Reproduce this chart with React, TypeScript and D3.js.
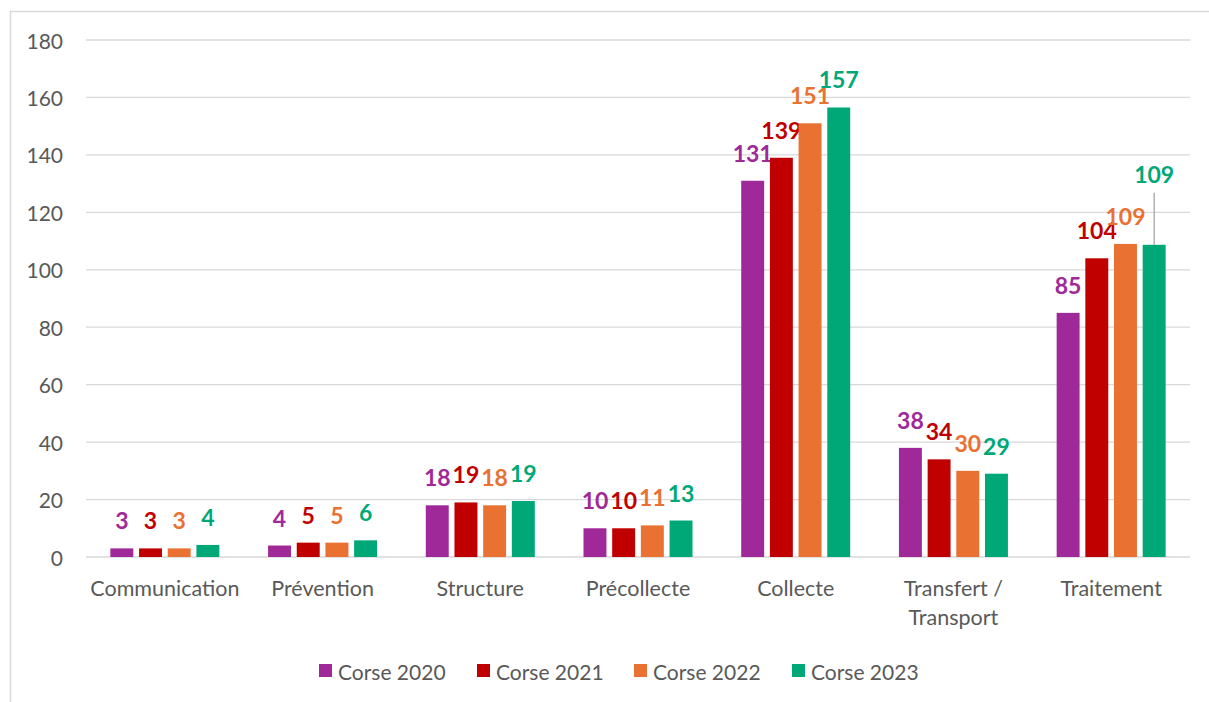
import React from "react";
import * as d3 from "d3";

const categories = ["Communication", "Prévention", "Structure", "Précollecte", "Collecte", "Transfert / Transport", "Traitement"];
const seriesNames = ["Corse 2020", "Corse 2021", "Corse 2022", "Corse 2023"];
const corse2020 = [3, 4, 18, 10, 131, 38, 85];
const corse2021 = [3, 5, 19, 10, 139, 34, 104];
const corse2022 = [3, 5, 18, 11, 151, 30, 109];
const corse2023 = [4.2, 5.8, 19.5, 12.7, 156.5, 29, 108.7];
const labels2020 = ["3", "4", "18", "10", "131", "38", "85"];
const labels2021 = ["3", "5", "19", "10", "139", "34", "104"];
const labels2022 = ["3", "5", "18", "11", "151", "30", "109"];
const labels2023 = ["4", "6", "19", "13", "157", "29", "109"];
const yTicks = [0, 20, 40, 60, 80, 100, 120, 140, 160, 180];

const colors = ["#A0299A", "#C00000", "#E97132", "#00A878"];
const allValues = [corse2020, corse2021, corse2022, corse2023];
const allLabels = [labels2020, labels2021, labels2022, labels2023];

// label placement tweaks (series-category) -> [dx, dy extra]
const labelAdjust: Record<string, [number, number]> = {
  "3-6": [0, -43],
};

export default function App() {
  const W = 1209, H = 702;
  const left = 86, right = 1190, top = 40, bottom = 557;
  const y = d3.scaleLinear().domain([0, 180]).range([bottom, top]);
  const x = d3.scaleBand().domain(categories).range([left, right]).paddingInner(0).paddingOuter(0);
  const bw = x.bandwidth();
  const groupW = 109;
  const xs = d3.scaleBand().domain(seriesNames).range([0, groupW]).paddingInner(0.2).paddingOuter(0);
  const font = "Lato, 'Open Sans', sans-serif";
  const legendX = [319, 477, 634, 792];
  const axisFs = 21.5;

  return (
    <svg width={W} height={H} style={{ position: "absolute", left: 0, top: 0, background: "#fff" }} fontFamily={font}>
      <rect x={0} y={0} width={W} height={H} fill="#fff" />
      <line x1={10.5} y1={11} x2={10.5} y2={H} stroke="#d9d9d9" strokeWidth={1.5} />
      <line x1={10} y1={11.5} x2={W} y2={11.5} stroke="#d9d9d9" strokeWidth={1.5} />
      {yTicks.map((t) => (
        <g key={t}>
          <line x1={left} x2={right} y1={y(t)} y2={y(t)} stroke="#d9d9d9" strokeWidth={1.3} />
          <text x={63} y={y(t)} textAnchor="end" dominantBaseline="central" fontSize={21} fill="#595959">{t}</text>
        </g>
      ))}
      {categories.map((c, ci) => {
        const gx = (x(c) as number) + (bw - groupW) / 2;
        const cx = (x(c) as number) + bw / 2;
        const parts = c.split(" / ");
        return (
          <g key={c}>
            {seriesNames.map((s, si) => {
              const v = allValues[si][ci];
              const bx = gx + (xs(s) as number);
              const by = y(v);
              const adj = labelAdjust[`${si}-${ci}`] || [0, 0];
              const lx = bx + xs.bandwidth() / 2 + adj[0];
              const ly = by - 19 + adj[1];
              return (
                <g key={s}>
                  <rect x={bx} y={by} width={xs.bandwidth()} height={bottom - by} fill={colors[si]} />
                  {adj[1] < -30 && (
                    <line x1={lx} x2={lx} y1={ly + 10} y2={by} stroke="#a6a6a6" strokeWidth={1.3} />
                  )}
                  <text x={lx} y={ly} textAnchor="middle" fontSize={23} fontWeight={700} fill={colors[si]}>
                    {allLabels[si][ci]}
                  </text>
                </g>
              );
            })}
            {parts.length > 1 ? (
              <text textAnchor="middle" fontSize={axisFs} fill="#595959">
                <tspan x={cx} y={596}>{parts[0] + " /"}</tspan>
                <tspan x={cx} y={625}>{parts[1]}</tspan>
              </text>
            ) : (
              <text x={cx} y={596} textAnchor="middle" fontSize={axisFs} fill="#595959">{c}</text>
            )}
          </g>
        );
      })}
      {seriesNames.map((s, si) => (
        <g key={s}>
          <rect x={legendX[si]} y={664} width={13} height={13} fill={colors[si]} />
          <text x={legendX[si] + 19} y={671} dominantBaseline="central" fontSize={21} fill="#595959">{s}</text>
        </g>
      ))}
    </svg>
  );
}
